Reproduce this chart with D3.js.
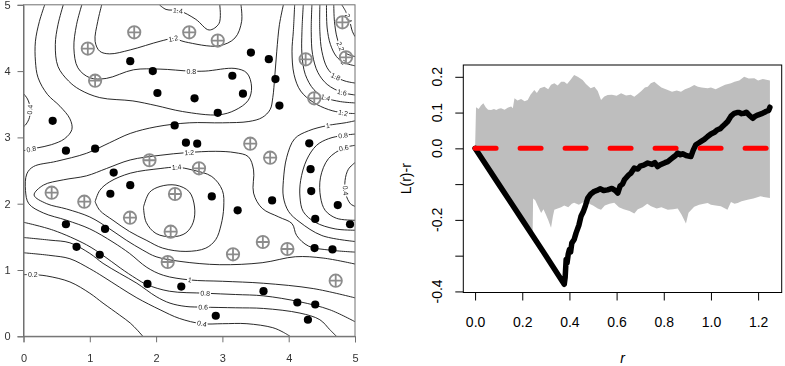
<!DOCTYPE html>
<html>
<head>
<meta charset="utf-8">
<script src="https://cdn.jsdelivr.net/npm/d3@7"></script>
<style>
  body { margin: 0; background: #fff; }
  svg { display: block; font-family: Arial, "Liberation Sans", sans-serif; }
</style>
</head>
<body>
<svg id="chart" width="785" height="366"></svg>
<script>
// ---- left panel: field points ----
const blackDots = [
  [0.44,3.25],[0.64,2.80],[1.08,2.83],[1.36,2.47],[1.61,4.15],[1.95,4.00],[2.02,3.67],
  [2.58,3.59],[2.28,3.18],[2.45,2.92],[2.62,2.905],[2.93,3.37],[3.15,3.93],[3.31,3.66],
  [3.43,4.28],[3.70,4.18],[3.80,3.88],[3.86,3.48],[4.31,2.91],[4.33,2.52],[4.34,2.19],
  [4.40,1.77],[4.74,1.98],[4.925,1.69],[4.39,1.33],[4.66,1.31],[1.61,2.28],[1.31,2.15],
  [0.64,1.69],[1.23,1.62],[0.80,1.35],[1.15,1.23],[1.87,0.79],[2.38,0.75],[2.84,2.11],
  [3.23,1.90],[3.75,2.05],[3.62,0.68],[4.13,0.51],[4.40,0.48],[4.29,0.25],[2.90,0.31]
];
const greyCrosses = [
  [0.97,4.34],[1.08,3.855],[1.67,4.585],[2.50,4.585],[2.93,4.46],[4.256,4.178],[4.81,4.736],
  [4.864,4.208],[4.386,3.59],[1.90,2.655],[2.647,2.534],[3.42,2.905],[3.72,2.694],[0.425,2.166],
  [0.917,2.03],[1.606,1.789],[2.285,2.146],[2.22,1.578],[2.175,1.121],[3.61,1.422],[3.16,1.237],
  [3.98,1.317],[4.709,0.839]
];

const contourLines = [
  { level: 0.2, pts: [[0,0.93],[0.14,0.93],[0.35,0.91],[0.7,0.82],[1.0,0.65],[1.2,0.5],[1.45,0.32],[1.61,0.2],[1.72,0.09],[1.8,0]] },
  { level: 0.4, pts: [[0,1.26],[0.4,1.22],[0.7,1.17],[1.0,1.02],[1.2,0.9],[1.45,0.74],[1.71,0.58],[2.06,0.4],[2.35,0.27],[2.69,0.19],[3.0,0.19],[3.37,0.19],[3.76,0.13],[3.92,0.06],[4.02,0]] },
  { level: 0.6, pts: [[0,1.49],[0.4,1.45],[0.7,1.41],[1.0,1.25],[1.2,1.1],[1.45,0.95],[1.71,0.8],[2.0,0.6],[2.21,0.5],[2.45,0.45],[2.71,0.44],[3.2,0.43],[3.62,0.42],[4.17,0.35],[4.47,0.25],[4.62,0.1],[4.72,0]] },
  { level: 0.8, pts: [[0,1.72],[0.45,1.6],[0.95,1.38],[1.2,1.22],[1.46,1.03],[1.7,0.87],[1.86,0.78],[2.2,0.68],[2.74,0.65],[3.2,0.63],[3.62,0.61],[4.17,0.52],[4.62,0.4],[5.0,0.22]] },
  { level: 1.0, pts: [[3.92,5],[3.86,4.7],[3.82,4.3],[3.79,3.92],[3.76,3.6],[3.72,3.42],[3.6,3.3],[3.4,3.24],[3.0,3.22],[2.5,3.22],[2.0,3.16],[1.61,3.06],[1.3,2.92],[0.95,2.76],[0.5,2.64],[0.15,2.56],[0.05,2.45],[0.03,2.2],[0.08,2.0],[0.3,1.86],[0.65,1.75],[1.0,1.62],[1.35,1.42],[1.6,1.25],[1.86,1.04],[2.11,0.92],[2.51,0.85],[3.0,0.83],[3.62,0.8],[4.37,0.72],[5,0.58]] },
  { level: 1.2, pts: [[5,1.09],[4.52,1.18],[4.1,1.2],[3.6,1.11],[2.96,1.08],[2.36,1.13],[2.0,1.2],[1.8,1.3],[1.55,1.45],[1.3,1.62],[1.0,1.8],[0.65,1.92],[0.35,2.0],[0.16,2.13],[0.3,2.28],[0.6,2.36],[0.95,2.42],[1.25,2.53],[1.61,2.66],[2.06,2.73],[2.46,2.77],[2.9,2.79],[3.19,2.77],[3.39,2.71],[3.47,2.51],[3.47,2.16],[3.6,1.93],[3.85,1.8],[4.05,1.7],[4.12,1.52],[4.3,1.36],[4.62,1.3],[5,1.27]] },
  { level: 1.4, pts: [[1.08,2.03],[1.15,2.2],[1.3,2.33],[1.61,2.46],[2.06,2.53],[2.31,2.55],[2.54,2.51],[2.84,2.41],[3.0,2.2],[3.02,1.95],[2.98,1.68],[2.9,1.46],[2.75,1.33],[2.45,1.28],[2.1,1.33],[1.85,1.45],[1.6,1.58],[1.35,1.75],[1.15,1.9],[1.08,2.03]] },
  { level: 1.6, pts: [[1.81,1.95],[1.9,2.17],[2.06,2.26],[2.3,2.28],[2.5,2.18],[2.58,1.95],[2.56,1.72],[2.45,1.56],[2.25,1.5],[2.0,1.55],[1.85,1.72],[1.81,1.95]] },
  // upper left
  { level: 0.4, pts: [[0,3.66],[0.06,3.58],[0.1,3.45],[0.09,3.3],[0.04,3.2],[0,3.16]] },
  { level: 0.8, pts: [[0.32,5],[0.24,4.75],[0.18,4.45],[0.18,4.15],[0.22,3.9],[0.36,3.65],[0.55,3.47],[0.7,3.28],[0.73,3.12],[0.62,2.98],[0.42,2.89],[0.2,2.84],[0,2.8]] },
  { level: 0.8, pts: [[0.6,5],[0.52,4.7],[0.48,4.4],[0.52,4.07],[0.68,3.85],[0.85,3.72],[1.15,3.6],[1.65,3.55],[2.0,3.48],[2.4,3.39],[2.94,3.34],[3.19,3.41],[3.39,3.56],[3.44,3.76],[3.37,3.97],[3.19,4.04],[2.74,4.0],[2.51,4.0],[2.06,4.03],[1.66,4.02],[1.25,3.89],[1.0,3.9],[0.82,4.05],[0.76,4.35],[0.8,4.7],[0.88,5]] },
  { level: 1.2, pts: [[1.18,5],[1.12,4.75],[1.08,4.45],[1.15,4.3],[1.3,4.26],[1.61,4.32],[2.06,4.45],[2.26,4.49],[2.44,4.44],[2.94,4.38],[3.19,4.5],[3.29,4.75],[3.28,5]] },
  { level: 1.4, pts: [[2.05,5],[2.15,4.93],[2.35,4.91],[2.6,4.78],[2.8,4.62],[2.95,4.72],[2.96,5]] },
  // upper right fan
  { level: 1.2, pts: [[4.09,5],[4.07,4.6],[4.05,4.3],[4.08,3.95],[4.18,3.7],[4.37,3.53],[4.6,3.42],[4.82,3.37],[5,3.36]] },
  { level: 1.4, pts: [[4.22,5],[4.2,4.6],[4.2,4.25],[4.25,3.95],[4.38,3.72],[4.55,3.6],[4.78,3.54],[5,3.52]] },
  { level: 1.6, pts: [[4.35,5],[4.34,4.6],[4.36,4.25],[4.44,3.98],[4.58,3.8],[4.8,3.68],[5,3.64]] },
  { level: 1.8, pts: [[4.47,5],[4.47,4.6],[4.5,4.3],[4.58,4.05],[4.7,3.92],[4.85,3.85],[5,3.82]] },
  { level: 2.0, pts: [[4.57,5],[4.58,4.65],[4.63,4.4],[4.72,4.22],[4.83,4.13],[5,4.08]] },
  { level: 2.2, pts: [[4.68,5],[4.69,4.75],[4.73,4.5],[4.79,4.35],[4.88,4.26],[5,4.22]] },
  { level: 2.4, pts: [[4.8,5],[4.86,4.9],[4.92,4.75],[4.96,4.6],[5,4.52]] },
  // right basin
  { level: 1.0, pts: [[5,3.25],[4.85,3.22],[4.59,3.18],[4.3,3.1],[4.09,2.98],[3.97,2.7],[3.92,2.35],[3.92,2.1],[4.0,1.88],[4.17,1.72],[4.5,1.52],[5,1.43]] },
  { level: 0.8, pts: [[5,3.05],[4.82,3.03],[4.6,2.98],[4.42,2.88],[4.27,2.66],[4.18,2.35],[4.17,2.1],[4.22,1.88],[4.4,1.72],[4.7,1.62],[5,1.6]] },
  { level: 0.6, pts: [[5,2.88],[4.83,2.84],[4.6,2.68],[4.48,2.4],[4.48,2.1],[4.55,1.9],[4.72,1.78],[5,1.75]] },
  { level: 0.4, pts: [[5,2.62],[4.9,2.52],[4.85,2.35],[4.86,2.15],[4.93,2.0],[5,1.96]] }
];

// contour label spots
const contourLabels = [
  ['0.2',0.14,0.93],['0.4',2.69,0.19],['0.6',2.71,0.44],['0.8',2.74,0.65],['1',2.51,0.85],
  ['1.2',2.5,2.77],['1.4',2.31,2.55],['0.8',0.12,2.82],['0.4',0.07,3.42],['1.2',2.26,4.49],
  ['1.4',2.33,4.92],['0.8',2.53,4.0],['1',4.59,3.18],['0.8',4.82,3.03],['0.6',4.83,2.84],
  ['0.4',4.87,2.2],['1.2',4.82,3.37],['1.4',4.55,3.58],['1.6',4.8,3.66],['1.8',4.7,3.9],
  ['2',4.82,4.13],['2.2',4.77,4.37],['2.4',4.91,4.8]
];
const mapTicks = [0, 1, 2, 3, 4, 5];

// ---- right panel: L(r)-r envelope ----
const hiR = [0,0.004,0.015,0.025,0.035,0.045,0.055,0.068,0.08,0.09,0.1,0.11,0.125,0.14,0.153,0.16,0.167,0.18,0.195,0.21,0.223,0.235,0.251,0.262,0.275,0.294,0.31,0.322,0.336,0.35,0.365,0.378,0.39,0.405,0.42,0.435,0.456,0.47,0.49,0.506,0.52,0.534,0.548,0.562,0.58,0.6,0.619,0.64,0.66,0.675,0.69,0.705,0.72,0.732,0.745,0.76,0.775,0.79,0.817,0.835,0.855,0.873,0.89,0.91,0.929,0.945,0.96,0.986,1.0,1.02,1.042,1.06,1.085,1.1,1.12,1.141,1.16,1.184,1.2,1.22,1.24,1.25];
const hiV = [0,0.115,0.11,0.12,0.126,0.115,0.108,0.107,0.11,0.107,0.111,0.112,0.108,0.114,0.117,0.112,0.14,0.134,0.138,0.132,0.135,0.15,0.163,0.155,0.168,0.172,0.165,0.178,0.182,0.176,0.186,0.186,0.18,0.192,0.205,0.2,0.191,0.18,0.168,0.172,0.16,0.135,0.145,0.149,0.15,0.147,0.154,0.148,0.15,0.144,0.152,0.16,0.17,0.172,0.182,0.186,0.178,0.17,0.163,0.158,0.162,0.158,0.165,0.17,0.177,0.172,0.17,0.168,0.17,0.165,0.172,0.178,0.182,0.186,0.19,0.2,0.195,0.196,0.19,0.194,0.191,0.19];
const loR = [0,0.05,0.1,0.15,0.2,0.235,0.244,0.246,0.255,0.265,0.28,0.29,0.3,0.31,0.322,0.33,0.336,0.35,0.365,0.378,0.395,0.41,0.42,0.44,0.46,0.477,0.5,0.52,0.534,0.55,0.57,0.59,0.61,0.63,0.655,0.675,0.69,0.71,0.73,0.746,0.77,0.79,0.817,0.84,0.859,0.875,0.894,0.905,0.929,0.95,0.97,0.986,1.0,1.02,1.042,1.06,1.07,1.085,1.1,1.113,1.13,1.155,1.18,1.21,1.23,1.25];
const loV = [0,-0.05,-0.1,-0.15,-0.2,-0.235,-0.236,-0.14,-0.145,-0.16,-0.181,-0.17,-0.185,-0.2,-0.222,-0.19,-0.172,-0.168,-0.165,-0.16,-0.165,-0.155,-0.152,-0.158,-0.15,-0.153,-0.16,-0.168,-0.172,-0.16,-0.155,-0.152,-0.165,-0.17,-0.175,-0.182,-0.17,-0.165,-0.155,-0.162,-0.168,-0.165,-0.172,-0.17,-0.168,-0.185,-0.21,-0.18,-0.163,-0.158,-0.155,-0.153,-0.158,-0.16,-0.162,-0.168,-0.172,-0.15,-0.155,-0.153,-0.148,-0.144,-0.14,-0.134,-0.137,-0.139];
const obsR = [0,0.1,0.2,0.3,0.378,0.382,0.386,0.39,0.395,0.4,0.405,0.41,0.42,0.428,0.44,0.449,0.46,0.468,0.477,0.49,0.506,0.52,0.53,0.545,0.562,0.58,0.595,0.605,0.615,0.625,0.633,0.65,0.66,0.675,0.69,0.7,0.715,0.732,0.75,0.762,0.774,0.785,0.795,0.805,0.817,0.83,0.84,0.85,0.859,0.87,0.88,0.895,0.915,0.925,0.936,0.948,0.96,0.972,0.986,1.0,1.015,1.028,1.04,1.05,1.06,1.071,1.085,1.099,1.11,1.12,1.13,1.141,1.15,1.16,1.177,1.188,1.198,1.215,1.225,1.233,1.245,1.25];
const obsV = [0,-0.1,-0.2,-0.3,-0.38,-0.36,-0.311,-0.32,-0.295,-0.283,-0.29,-0.265,-0.255,-0.237,-0.215,-0.19,-0.175,-0.16,-0.14,-0.128,-0.12,-0.117,-0.113,-0.118,-0.116,-0.112,-0.118,-0.125,-0.105,-0.1,-0.088,-0.075,-0.07,-0.055,-0.058,-0.05,-0.047,-0.041,-0.045,-0.04,-0.051,-0.046,-0.043,-0.04,-0.037,-0.03,-0.025,-0.02,-0.013,-0.018,-0.015,-0.02,-0.023,-0.005,0.01,0.015,0.02,0.025,0.033,0.04,0.045,0.052,0.055,0.062,0.068,0.075,0.09,0.098,0.1,0.1,0.097,0.098,0.101,0.094,0.084,0.09,0.093,0.097,0.1,0.103,0.106,0.115];
const theoR = [0, 1.25];
const theoV = [0, 0];
const rTicks = [0, 0.2, 0.4, 0.6, 0.8, 1.0, 1.2];
const lTicks = [-0.4, -0.3, -0.2, -0.1, 0, 0.1, 0.2];
const lLabelled = [-0.4, -0.2, 0, 0.1, 0.2];

const svg = d3.select('#chart');

// ================= left panel =================
const mx = d3.scaleLinear().domain([0, 5]).range([23.5, 355]);
const my = d3.scaleLinear().domain([0, 5]).range([336.3, 4.8]);

svg.append('defs').append('clipPath').attr('id', 'mapclip')
  .append('rect')
  .attr('x', mx(0)).attr('y', my(5))
  .attr('width', mx(5) - mx(0)).attr('height', my(0) - my(5));

const mapG = svg.append('g');
const contourG = mapG.append('g').attr('clip-path', 'url(#mapclip)');

const contourPath = d3.line()
  .x(d => mx(d[0]))
  .y(d => my(d[1]))
  .curve(d3.curveCatmullRom.alpha(0.5));

contourG.selectAll('path.contour')
  .data(contourLines)
  .enter()
  .append('path')
  .attr('class', 'contour')
  .attr('d', d => contourPath(d.pts))
  .attr('fill', 'none')
  .attr('stroke', '#111')
  .attr('stroke-width', 0.9);

// snap each label onto the nearest traced line and turn it along the line
function snapLabel(lx, ly) {
  const px = mx(lx), py = my(ly);
  let best = { dist: Infinity, x: px, y: py, ang: 0 };
  contourLines.forEach(c => {
    for (let i = 0; i < c.pts.length - 1; i++) {
      const ax = mx(c.pts[i][0]), ay = my(c.pts[i][1]);
      const bx = mx(c.pts[i + 1][0]), by = my(c.pts[i + 1][1]);
      const dx = bx - ax, dy = by - ay;
      const len2 = dx * dx + dy * dy || 1;
      const t = Math.max(0, Math.min(1, ((px - ax) * dx + (py - ay) * dy) / len2));
      const qx = ax + t * dx, qy = ay + t * dy;
      const dist = Math.hypot(px - qx, py - qy);
      if (dist < best.dist) {
        let ang = Math.atan2(dy, dx) * 180 / Math.PI;
        if (ang > 90) ang -= 180;
        if (ang < -90) ang += 180;
        best = { dist, x: qx, y: qy, ang };
      }
    }
  });
  return best;
}

const labelG = contourG.append('g').attr('opacity', 0.999);
labelG.selectAll('text.clabel')
  .data(contourLabels)
  .enter()
  .append('text')
  .attr('class', 'clabel')
  .each(function (d) {
    const s = snapLabel(d[1], d[2]);
    d3.select(this)
      .attr('transform', `translate(${s.x},${s.y}) rotate(${s.ang})`);
  })
  .attr('text-anchor', 'middle')
  .attr('dy', '0.35em')
  .attr('font-size', 7)
  .attr('fill', '#222')
  .attr('stroke', '#fff')
  .attr('stroke-width', 3)
  .attr('paint-order', 'stroke')
  .text(d => d[0]);

// points
mapG.append('g').selectAll('circle')
  .data(blackDots)
  .enter()
  .append('circle')
  .attr('cx', d => mx(d[0]))
  .attr('cy', d => my(d[1]))
  .attr('r', 4.1)
  .attr('fill', '#000');

const crossG = mapG.append('g').selectAll('g')
  .data(greyCrosses)
  .enter()
  .append('g')
  .attr('transform', d => `translate(${mx(d[0])},${my(d[1])})`)
  .attr('stroke', '#8c8c8c')
  .attr('stroke-width', 1.8)
  .attr('fill', 'none');
crossG.append('circle').attr('r', 6.2);
crossG.append('path').attr('d', 'M-6.2,0H6.2M0,-6.2V6.2');

// frame and axes
mapG.append('rect')
  .attr('x', mx(0)).attr('y', my(5))
  .attr('width', mx(5) - mx(0)).attr('height', my(0) - my(5))
  .attr('fill', 'none').attr('stroke', '#707070').attr('stroke-width', 1);

const mapXAxis = mapG.append('g')
  .attr('transform', `translate(0,${my(0)})`)
  .call(d3.axisBottom(mx).tickValues(mapTicks).tickSize(6).tickPadding(12).tickFormat(d3.format('d')));
const mapYAxis = mapG.append('g')
  .attr('transform', `translate(${mx(0)},0)`)
  .call(d3.axisLeft(my).tickValues(mapTicks).tickSize(6).tickPadding(7).tickFormat(d3.format('d')));
[mapXAxis, mapYAxis].forEach(a => {
  a.select('.domain').attr('stroke', '#707070');
  a.selectAll('.tick line').attr('stroke', '#707070');
  a.selectAll('text').attr('font-size', 11).attr('fill', '#333').attr('font-family', 'Arial, "Liberation Sans", sans-serif');
});

// ================= right panel =================
const rx = d3.scaleLinear().domain([-0.05, 1.30]).range([463.3, 781.7]);
const ry = d3.scaleLinear().domain([-0.403, 0.233]).range([292.5, 65]);

const envG = svg.append('g');
const envPts = hiR.map((r, i) => [r, hiV[i]])
  .concat(loR.map((r, i) => [r, loV[i]]).reverse());
const envLine = d3.line().x(d => rx(d[0])).y(d => ry(d[1]));

envG.append('path')
  .attr('d', envLine(envPts) + 'Z')
  .attr('fill', '#bebebe')
  .attr('stroke', 'none');

envG.append('path')
  .attr('d', envLine(obsR.map((r, i) => [r, obsV[i]])))
  .attr('fill', 'none')
  .attr('stroke', '#000')
  .attr('stroke-width', 5.5)
  .attr('stroke-linejoin', 'round')
  .attr('stroke-linecap', 'round');

envG.append('path')
  .attr('d', envLine(theoR.map((r, i) => [r, theoV[i]])))
  .attr('fill', 'none')
  .attr('stroke', '#ff0000')
  .attr('stroke-width', 5)
  .attr('stroke-linecap', 'round')
  .attr('stroke-dasharray', '21,24');

envG.append('rect')
  .attr('x', rx(-0.05)).attr('y', ry(0.233))
  .attr('width', rx(1.30) - rx(-0.05)).attr('height', ry(-0.403) - ry(0.233))
  .attr('fill', 'none').attr('stroke', '#000').attr('stroke-width', 1);

const rAxis = envG.append('g')
  .attr('transform', `translate(0,${ry(-0.403)})`)
  .call(d3.axisBottom(rx).tickValues(rTicks).tickSize(8).tickPadding(17).tickFormat(d => d.toFixed(1)));
const lAxis = envG.append('g')
  .attr('transform', `translate(${rx(-0.05)},0)`)
  .call(d3.axisLeft(ry).tickValues(lTicks).tickSize(8).tickFormat(''));
[rAxis, lAxis].forEach(a => {
  a.select('.domain').remove();
  a.selectAll('.tick line').attr('stroke', '#000');
  a.selectAll('text').attr('font-size', 14).attr('fill', '#000').attr('font-family', 'Arial, "Liberation Sans", sans-serif');
});

envG.append('g').selectAll('text')
  .data(lLabelled)
  .enter()
  .append('text')
  .attr('transform', d => `translate(437,${ry(d)}) rotate(-90)`)
  .attr('text-anchor', 'middle')
  .attr('dy', '0.35em')
  .attr('font-size', 14)
  .text(d => d.toFixed(1));

svg.append('text')
  .attr('transform', `translate(406,${(ry(-0.403) + ry(0.233)) / 2}) rotate(-90)`)
  .attr('text-anchor', 'middle')
  .attr('dy', '0.35em')
  .attr('font-size', 14)
  .text('L(r)-r');

svg.append('text')
  .attr('x', (rx(-0.05) + rx(1.30)) / 2)
  .attr('y', 358)
  .attr('text-anchor', 'middle')
  .attr('dy', '0.35em')
  .attr('font-size', 14)
  .attr('font-style', 'italic')
  .text('r');
</script>
</body>
</html>
